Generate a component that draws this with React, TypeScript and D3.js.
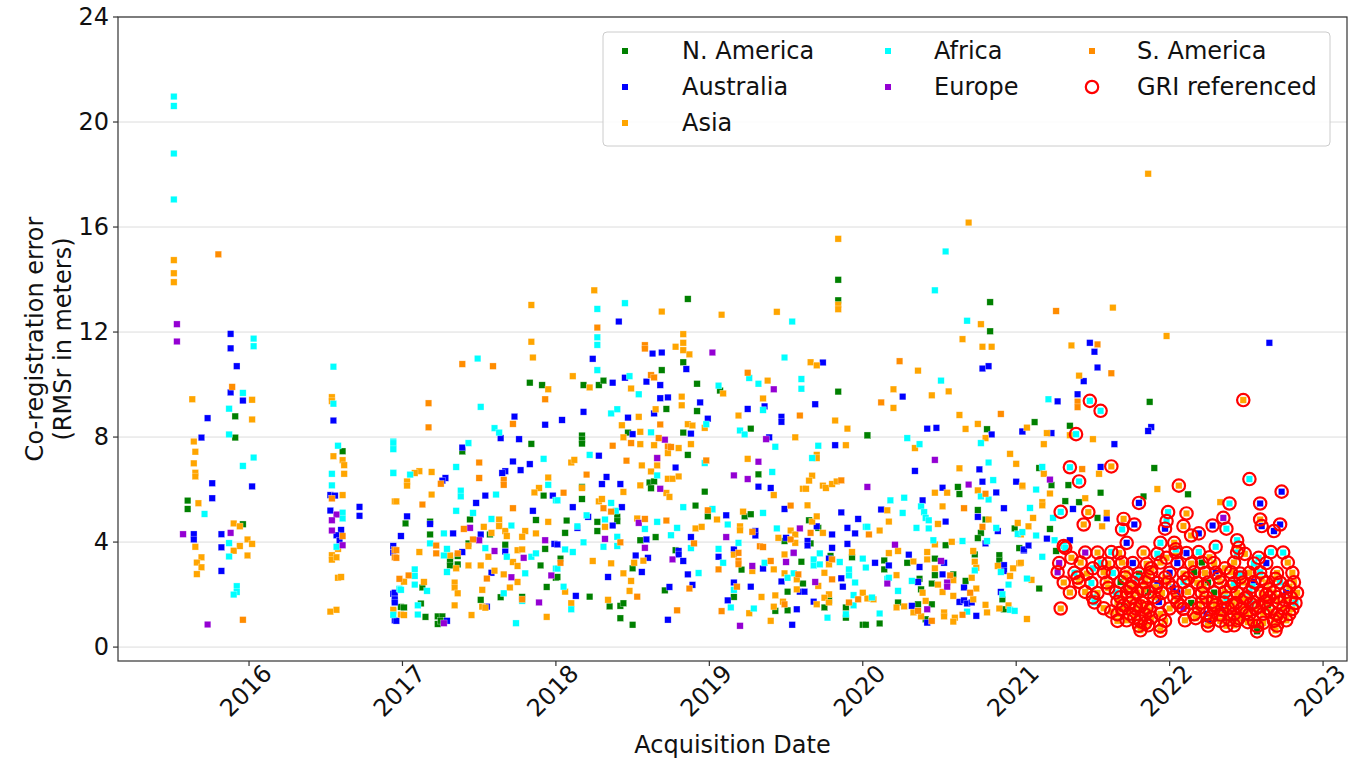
import React, { useEffect } from "react";
import * as d3 from "d3";

// Acquisition date (decimal year) and RMSr error (m), per region
const nAmerica: [number, number][] = [
  [2015.91,8.79],[2015.91,7.98],[2015.60,5.58],[2015.60,5.26],[2015.96,4.68],[2016.61,7.46],[2016.99,1.53],
  [2017.83,10.07],[2017.91,9.98],[2017.84,7.74],[2017.39,7.45],[2017.92,5.77],[2017.87,4.84],[2017.02,4.71],[2017.18,4.78],[2017.18,4.29],[2017.44,4.86],[2017.57,4.29],[2017.43,3.95],[2017.36,3.47],[2017.67,3.9],[2017.93,3.74],[2017.31,3.28],[2017.31,3.11],[2017.36,3.15],[2017.90,3.11],[2018.0,2.64],[2017.13,2.27],[2017.94,2.29],[2017.51,1.8],[2017.64,1.9],[2017.78,1.91],[2017.01,1.51],[2017.12,1.66],[2017.15,1.15],[2017.23,1.17],[2017.26,1.17],[2017.23,0.88],[2017.25,1.0],
  [2018.86,13.26],[2018.83,10.85],[2018.18,9.98],[2018.28,9.98],[2018.31,10.15],[2018.69,10.55],[2018.92,10.03],[2018.72,9.07],[2018.92,8.99],[2018.47,8.17],[2018.83,8.17],[2018.17,8.06],[2018.17,7.91],[2018.17,7.75],[2018.86,7.32],[2018.61,6.27],[2018.64,6.31],[2018.62,6.05],[2018.97,5.92],[2018.17,6.1],[2018.17,5.64],[2018.91,5.39],[2018.07,4.82],[2018.06,4.35],[2018.27,4.77],[2018.27,4.42],[2018.40,4.96],[2018.40,4.8],[2018.65,4.19],[2018.99,4.98],[2018.55,4.07],[2018.78,3.69],[2018.50,3.0],[2018.03,3.37],[2018.01,2.67],[2018.22,1.92],[2018.35,1.55],[2018.42,1.57],[2018.44,1.67],[2018.42,1.1],[2018.50,0.85],[2018.71,2.16],
  [2019.84,13.99],[2019.84,13.21],[2019.07,9.77],[2019.84,9.73],[2019.27,8.32],[2020.03,8.06],[2019.32,6.58],[2019.23,4.98],[2019.27,5.06],[2019.65,4.83],[2019.71,4.54],[2019.49,4.04],[2019.66,3.95],[2019.60,3.25],[2019.79,3.47],[2019.93,3.42],[2019.21,2.95],[2019.16,1.91],[2019.61,2.42],[2019.51,2.11],[2019.78,1.78],[2019.43,1.38],[2019.51,1.4],[2019.75,1.51],[2019.89,1.51],[2019.89,1.12],[2020.0,0.85],
  [2020.83,13.14],[2020.83,12.03],[2020.81,8.3],[2020.03,8.07],[2020.62,6.1],[2020.63,5.83],[2020.75,5.22],[2020.80,4.86],[2020.77,4.35],[2020.75,4.15],[2020.99,4.52],[2020.54,3.88],[2020.73,3.53],[2021.02,3.77],[2020.14,3.3],[2020.14,2.96],[2020.29,3.21],[2020.47,3.37],[2020.47,2.74],[2020.59,2.77],[2020.67,2.52],[2020.89,3.5],[2020.89,3.3],[2020.37,2.6],[2020.38,2.2],[2020.45,2.42],[2020.91,1.82],[2020.23,1.7],[2020.36,1.63],[2020.45,1.63],[2020.41,1.06],[2020.92,1.44],[2020.11,0.9],[2020.02,0.85],
  [2021.87,9.34],[2021.12,8.57],[2021.35,8.43],[2021.15,6.82],[2021.23,6.17],[2021.34,6.17],[2021.55,5.88],[2021.90,6.82],[2022.12,5.82],[2021.83,5.74],[2021.32,5.56],[2021.41,5.52],[2021.53,4.92],[2021.22,4.5],[2021.26,3.66],[2021.15,2.23],
];

const australia: [number, number][] = [
  [2015.88,11.93],[2015.88,11.38],[2015.92,10.7],[2015.88,9.7],[2015.96,9.39],[2015.73,8.72],[2015.69,7.98],[2015.76,6.24],[2015.76,5.67],[2016.02,6.12],[2015.64,4.3],[2015.64,4.1],[2015.82,4.3],[2015.82,3.8],[2015.82,2.9],
  [2016.55,8.63],[2016.53,5.79],[2016.56,5.77],[2016.53,5.2],[2016.60,4.46],[2016.57,4.26],[2016.59,4.06],[2016.72,5.34],[2016.72,5.0],
  [2016.94,3.85],[2016.94,3.6],[2016.94,2.03],[2016.95,1.74],[2016.95,1.02],
  [2017.73,8.78],[2017.93,8.47],[2017.64,7.96],[2017.76,7.92],[2017.39,7.6],[2017.72,7.07],[2017.83,6.97],[2017.77,6.74],[2017.67,6.7],[2017.65,6.63],[2017.28,6.44],[2017.26,6.34],[2017.98,5.77],[2017.54,5.77],[2017.48,5.49],[2017.85,5.19],[2017.03,4.98],[2016.99,4.23],[2017.18,4.69],[2017.33,4.33],[2017.51,4.29],[2017.99,3.93],[2017.39,3.62],[2017.67,3.64],[2017.58,2.83],[2016.95,2.07],[2016.95,1.82],[2016.95,1.7],[2017.55,1.54],[2016.96,1.0],[2017.29,1.0],
  [2018.41,12.4],[2018.24,10.98],[2018.63,11.18],[2018.69,11.22],[2018.85,10.59],[2018.37,10.07],[2018.45,10.26],[2018.59,10.11],[2018.68,9.98],[2018.68,9.48],[2018.73,9.51],[2018.94,9.32],[2018.64,8.9],[2018.18,8.96],[2018.04,8.65],[2018.47,8.74],[2018.99,8.7],[2018.50,8.11],[2018.88,8.13],[2018.28,7.29],[2018.78,6.84],[2018.33,6.48],[2018.30,6.21],[2018.42,6.21],[2018.11,5.33],[2018.43,5.33],[2018.21,4.96],[2018.14,4.54],[2018.37,4.63],[2018.59,4.1],[2018.01,3.91],[2018.80,3.66],[2018.80,3.53],[2018.83,3.28],[2018.88,4.19],[2018.60,3.4],[2018.52,3.49],[2018.56,2.86],[2018.34,2.67],[2018.86,2.77],[2018.13,1.95],[2018.74,2.29],[2018.89,2.37],[2018.73,1.04],
  [2019.74,10.84],[2019.25,9.07],[2019.36,9.17],[2019.47,8.77],[2019.47,8.58],[2019.69,9.25],[2019.39,7.99],[2019.82,7.69],[2019.32,6.11],[2019.40,6.06],[2019.11,5.02],[2019.49,5.26],[2019.86,5.13],[2019.97,4.88],[2019.70,4.6],[2019.30,4.42],[2019.30,4.25],[2019.80,4.29],[2019.90,4.54],[2019.95,4.33],[2019.50,4.16],[2019.64,4.04],[2019.64,3.87],[2019.80,3.78],[2019.90,3.93],[2019.16,3.72],[2019.06,3.44],[2019.55,3.59],[2019.78,3.37],[2019.35,2.99],[2019.47,2.5],[2019.86,2.62],[2019.16,2.46],[2019.27,2.3],[2019.12,1.78],[2019.59,2.11],[2019.62,2.11],[2019.87,2.3],[2019.57,1.44],[2019.68,1.73],[2019.54,0.85],
  [2020.78,10.61],[2020.82,10.7],[2020.26,9.54],[2020.42,8.32],[2020.48,8.35],[2020.84,8.1],[2021.04,8.22],[2020.34,6.71],[2020.76,6.77],[2020.78,6.3],[2021.0,6.3],[2020.52,6.07],[2020.87,5.89],[2020.39,5.59],[2020.12,5.24],[2020.92,5.29],[2020.75,4.96],[2020.54,4.78],[2020.88,4.42],[2020.80,3.95],[2021.05,3.68],[2020.08,3.21],[2020.17,3.11],[2020.30,3.52],[2020.37,3.05],[2020.53,3.21],[2020.52,2.77],[2020.66,2.27],[2020.92,3.12],[2020.92,2.9],[2020.36,2.48],[2020.90,2.1],[2020.32,1.57],[2020.42,0.93],[2020.63,1.72],[2020.66,1.78],[2020.68,1.66],[2020.71,1.7],[2020.74,1.19],
  [2021.48,11.59],[2021.51,11.25],[2021.53,10.65],[2021.44,10.13],[2021.40,9.63],[2021.27,9.36],[2021.88,8.38],[2021.86,8.23],[2021.04,8.21],[2021.23,8.15],[2021.64,7.73],[2021.55,6.86],[2021.37,5.26],[2021.59,4.9],[2021.20,4.13],[2021.35,4.07],[2021.05,3.72],[2021.08,3.87],[2022.65,11.59],
];

const asia: [number, number][] = [
  [2015.51,14.74],[2015.51,14.24],[2015.51,13.9],[2015.63,9.44],[2016.02,9.42],[2016.02,8.67],[2015.64,7.83],[2015.65,7.44],[2015.64,7.0],[2015.65,6.64],[2015.65,6.5],[2015.67,5.48],[2015.90,4.71],[2015.94,4.6],[2015.99,4.1],[2016.02,3.93],[2015.94,3.85],[2015.90,3.67],[2015.65,3.82],[2015.99,3.49],[2015.69,3.42],[2015.66,3.22],[2015.69,3.04],[2015.66,2.78],
  [2016.54,9.52],[2016.54,9.37],[2016.55,7.27],[2016.61,7.12],[2016.62,6.93],[2016.62,6.6],[2016.61,5.79],[2016.58,3.74],[2016.54,3.5],[2016.54,3.33],[2016.57,3.42],[2016.58,2.64],[2016.60,2.67],[2016.53,1.35],[2016.57,1.42],
  [2016.95,5.55],[2016.94,1.37],[2016.99,1.24],
  [2017.84,13.03],[2017.84,11.63],[2017.85,11.03],[2017.95,9.82],[2017.11,6.7],[2017.08,6.63],[2017.19,6.67],[2017.03,6.31],[2017.03,6.15],[2017.95,6.46],[2017.89,6.06],[2017.86,5.89],[2016.96,5.55],[2017.19,5.81],[2017.95,4.77],[2017.53,4.58],[2017.63,4.86],[2017.63,4.61],[2017.58,4.35],[2017.67,4.42],[2017.68,4.23],[2017.80,4.42],[2017.78,4.2],[2017.87,4.33],[2017.43,3.85],[2017.31,3.49],[2017.56,3.44],[2017.75,3.69],[2017.78,3.72],[2017.11,3.62],[2017.72,3.24],[2017.75,3.09],[2017.35,3.0],[2017.43,3.11],[2017.51,3.11],[2017.60,2.91],[2017.66,2.77],[2017.01,2.49],[2017.14,2.48],[2017.75,2.48],[2017.70,2.27],[2017.34,2.46],[2017.34,2.27],[2017.36,2.05],[2017.52,2.18],[2016.94,1.42],[2017.01,1.22],[2017.34,1.59],[2017.52,1.54],[2017.54,1.5],[2017.45,1.22],[2017.94,1.15],
  [2018.25,13.59],[2018.69,12.78],[2018.78,11.44],[2018.83,11.92],[2018.83,11.59],[2018.83,11.31],[2018.87,11.15],[2018.11,10.32],[2018.22,9.89],[2018.49,9.85],[2018.82,9.54],[2018.82,9.21],[2018.65,9.06],[2018.54,8.77],[2018.43,8.45],[2018.86,8.49],[2018.89,8.44],[2018.97,8.35],[2018.44,7.99],[2018.55,8.2],[2018.55,7.73],[2018.64,7.69],[2018.73,7.39],[2018.80,7.58],[2018.88,7.73],[2018.10,7.03],[2018.12,7.13],[2018.56,6.92],[2018.66,7.2],[2018.66,6.92],[2018.62,6.69],[2018.55,6.16],[2018.73,6.41],[2018.76,6.41],[2018.80,6.5],[2018.72,5.87],[2018.74,5.72],[2018.17,6.06],[2018.44,5.91],[2018.28,5.55],[2018.30,5.64],[2018.32,4.58],[2018.53,4.9],[2018.91,4.52],[2018.95,4.58],[2018.24,3.28],[2018.36,3.19],[2018.51,3.21],[2018.57,3.29],[2018.44,2.81],[2018.49,2.52],[2018.06,2.11],[2018.10,1.67],[2018.48,2.14],[2018.34,1.8],
  [2019.84,15.55],[2019.08,12.66],[2019.44,12.77],[2019.84,13.04],[2019.84,12.87],[2019.66,10.85],[2019.70,10.73],[2019.38,10.15],[2019.09,9.66],[2019.35,9.47],[2019.19,8.82],[2019.82,8.63],[2019.90,8.32],[2019.56,7.99],[2019.89,7.69],[2019.25,7.17],[2019.70,7.32],[2019.70,7.2],[2019.42,5.79],[2019.67,6.53],[2019.65,6.34],[2019.61,6.03],[2019.63,6.03],[2019.74,6.15],[2019.76,6.06],[2019.80,6.21],[2019.83,6.31],[2019.22,5.16],[2019.64,5.4],[2019.05,4.86],[2019.20,4.6],[2019.20,4.45],[2019.67,4.78],[2019.70,4.98],[2019.53,4.44],[2019.56,4.29],[2019.74,4.35],[2019.45,4.16],[2019.56,3.97],[2019.16,3.52],[2019.49,3.53],[2019.78,3.15],[2019.93,3.62],[2019.28,2.9],[2019.42,2.96],[2019.49,2.81],[2019.57,2.58],[2019.75,2.83],[2019.57,2.2],[2019.71,2.33],[2019.78,2.01],[2019.75,1.88],[2020.0,2.07],[2020.03,1.85],[2019.26,1.29],[2019.34,1.91],[2019.43,1.97],[2019.42,1.54],[2019.48,1.73],[2019.70,1.63],[2019.78,1.7],[2019.40,1.0],
  [2020.69,16.17],[2020.77,12.3],[2020.65,11.73],[2020.78,11.44],[2020.84,11.44],[2020.36,10.53],[2020.20,9.82],[2020.45,9.59],[2020.56,9.74],[2020.20,9.11],[2020.63,8.84],[2020.67,8.31],[2020.75,8.5],[2020.80,7.96],[2020.34,7.58],[2020.96,7.36],[2021.0,6.98],[2020.63,6.81],[2021.04,6.12],[2020.47,5.88],[2020.55,5.88],[2020.75,5.97],[2020.16,5.21],[2020.52,5.36],[2020.17,4.78],[2020.49,4.69],[2020.82,4.86],[2021.01,4.73],[2020.11,4.44],[2020.17,3.58],[2020.23,3.66],[2020.47,3.91],[2020.58,4.01],[2020.72,3.66],[2020.33,3.26],[2020.42,3.62],[2020.42,3.34],[2020.47,3.0],[2020.59,2.55],[2020.73,3.25],[2020.74,3.02],[2020.71,2.64],[2020.88,3.09],[2020.98,3.0],[2021.02,3.19],[2020.96,2.71],[2020.22,2.74],[2020.39,2.07],[2020.49,2.38],[2020.52,2.1],[2020.59,1.95],[2020.74,2.23],[2020.72,1.82],[2020.07,1.82],[2020.22,1.51],[2020.27,1.55],[2020.41,1.76],[2020.33,1.32],[2020.38,1.17],[2020.53,1.32],[2020.53,1.17],[2020.60,1.12],[2020.59,0.97],[2020.80,1.61],[2020.81,1.32],[2020.89,1.47],[2020.95,1.59],
  [2021.63,12.93],[2021.86,18.03],[2021.98,11.85],[2021.36,11.49],[2021.41,10.34],[2021.07,8.36],[2021.20,8.15],[2021.35,8.07],[2021.50,7.92],[2021.18,7.73],[2021.18,6.6],[2021.04,6.15],[2021.22,5.85],[2021.54,6.6],[2021.92,6.02],[2021.45,5.67],[2021.17,5.52],[2021.17,5.4],[2021.59,5.11],[2021.11,4.92],[2021.08,4.6],[2021.56,4.6],[2021.03,4.29],[2021.03,3.21],[2021.10,2.56],[2021.07,1.07],[2022.33,5.52],
];

const africa: [number, number][] = [
  [2015.51,20.97],[2015.51,20.61],[2015.51,18.8],[2015.51,17.05],[2016.03,11.75],[2016.03,11.46],[2015.96,9.68],[2015.87,9.08],[2015.87,8.1],[2016.03,7.22],[2015.96,6.9],[2015.71,5.07],[2015.87,3.96],[2015.87,3.45],[2015.92,2.32],[2015.92,2.1],[2015.90,2.0],
  [2016.55,10.68],[2016.55,9.27],[2016.58,7.67],[2016.54,6.6],[2016.54,6.16],[2016.61,5.12],[2016.61,4.9],[2016.57,3.82],
  [2016.94,7.83],[2016.94,7.57],[2016.94,6.64],[2016.98,2.22],[2016.94,1.23],
  [2017.49,10.99],[2017.51,9.15],[2017.60,8.34],[2017.63,8.17],[2017.43,7.77],[2016.94,7.77],[2016.94,7.54],[2017.92,7.17],[2017.35,6.86],[2017.05,6.57],[2016.94,6.63],[2017.95,6.18],[2018.0,5.59],[2017.38,5.96],[2017.38,5.74],[2017.61,5.81],[2017.35,5.19],[2017.46,5.11],[2017.58,4.88],[2017.71,4.63],[2017.27,4.33],[2017.18,3.95],[2017.29,3.74],[2017.27,3.49],[2017.54,3.77],[2017.68,3.44],[2017.84,3.44],[2017.87,3.57],[2018.0,2.99],[2017.29,2.86],[2017.80,2.81],[2017.08,2.96],[2017.08,2.71],[2017.08,2.38],[2017.16,2.14],[2016.99,2.18],[2017.66,2.05],[2017.78,1.76],[2017.10,1.59],[2017.10,1.24],[2017.74,0.91],
  [2018.27,12.88],[2018.45,13.1],[2018.27,11.8],[2018.27,11.51],[2018.27,10.55],[2018.48,10.32],[2018.54,9.63],[2018.36,8.9],[2018.40,9.06],[2018.98,8.49],[2018.62,8.18],[2018.22,7.32],[2018.97,7.01],[2018.66,6.54],[2018.01,5.59],[2018.36,5.49],[2018.39,5.19],[2018.83,5.33],[2019.02,5.24],[2018.20,5.02],[2018.14,4.6],[2018.32,4.86],[2018.58,4.5],[2018.66,4.77],[2018.79,4.54],[2018.75,4.26],[2018.40,4.2],[2018.40,3.85],[2018.31,3.82],[2018.18,3.99],[2018.06,3.72],[2018.11,3.62],[2018.88,3.77],[2018.93,2.82],[2018.01,2.99],[2018.05,2.3],[2018.10,1.44],
  [2019.54,12.4],[2019.49,11.03],[2019.26,10.25],[2019.32,10.03],[2019.06,9.96],[2019.60,10.21],[2019.60,9.84],[2019.35,9.03],[2019.20,8.25],[2019.23,8.1],[2019.43,7.63],[2019.71,7.67],[2019.67,7.2],[2019.41,6.67],[2019.02,5.26],[2019.35,5.11],[2019.12,4.67],[2019.44,4.52],[2020.02,4.58],[2019.19,3.97],[2019.06,3.74],[2019.09,3.21],[2019.72,3.57],[2019.68,3.34],[2019.68,3.11],[2019.72,3.15],[2019.85,3.24],[2020.0,3.37],[2020.02,3.03],[2019.36,3.21],[2019.55,2.81],[2019.51,2.64],[2019.91,2.96],[2019.91,2.73],[2019.95,2.46],[2019.16,2.18],[2019.94,1.98],[2019.14,1.51],[2019.29,1.47],[2019.89,1.25],[2019.94,1.59],[2019.77,1.12],
  [2020.54,15.07],[2020.47,13.59],[2020.68,12.43],[2020.51,10.15],[2020.29,7.96],[2020.37,7.73],[2020.77,7.77],[2020.82,7.03],[2020.85,6.36],[2020.77,5.74],[2020.82,5.62],[2020.18,5.59],[2020.27,5.69],[2020.38,5.36],[2020.26,5.11],[2020.40,5.14],[2020.41,4.92],[2020.43,4.83],[2020.43,4.52],[2020.35,4.54],[2020.87,4.54],[2021.01,4.31],[2020.03,4.58],[2020.46,4.07],[2020.65,4.04],[2020.81,4.04],[2020.73,2.92],[2020.90,2.86],[2020.95,2.38],[2020.16,2.6],[2020.17,2.64],[2020.32,2.52],[2020.23,2.14],[2020.91,2.01],[2020.06,1.89],[2020.68,1.35],[2020.96,1.42],[2020.99,1.38],[2020.11,1.28],
  [2021.21,9.44],[2021.17,6.86],[2021.13,6.0],[2021.09,5.3],[2021.24,4.92],[2021.13,4.25],[2021.04,4.38],[2021.25,4.07],[2021.17,3.44],[2021.07,2.61],
];

const europe: [number, number][] = [
  [2015.53,12.3],[2015.53,11.64],[2015.57,4.3],[2015.88,4.35],[2015.73,0.86],
  [2016.57,5.05],[2016.54,4.83],[2016.54,4.44],[2016.61,3.88],
  [2017.44,4.54],[2017.50,4.07],[2017.60,3.66],[2017.79,3.4],[2017.71,2.66],[2017.97,2.73],[2017.89,1.7],[2017.27,0.91],[2017.93,4.07],
  [2019.02,11.22],[2018.71,7.9],[2018.68,6.03],[2018.66,7.2],[2018.32,4.12],[2018.54,4.73],[2018.58,3.78],[2018.76,3.34],
  [2019.42,9.82],[2019.37,7.92],[2019.32,7.06],[2019.16,6.54],[2019.25,6.4],[2020.03,6.1],[2019.59,4.52],[2019.11,4.19],[2019.55,3.59],[2019.50,3.24],[2019.28,3.09],[2019.69,2.48],[2019.20,0.81],
  [2020.47,7.13],[2020.69,6.19],[2020.21,3.9],[2020.51,3.28],[2020.16,2.42],[2020.55,2.46],[2020.55,2.3],[2020.42,1.44],
  [2021.22,6.38],
];

const sAmerica: [number, number][] = [
  [2015.80,14.96],[2015.89,9.91],[2015.96,1.04],[2016.54,5.66],[2016.61,4.23],[2016.95,3.7],[2016.95,3.42],
  [2017.39,10.78],[2017.59,10.7],[2017.93,9.44],[2017.17,9.29],[2017.17,8.37],[2017.72,8.5],[2017.50,7.03],[2017.25,6.22],[2017.50,6.44],[2017.66,6.37],[2017.66,6.18],[2017.13,5.43],[2017.72,5.29],[2017.40,4.5],[2017.46,4.1],[2017.22,3.87],[2017.22,3.57],[2017.36,3.57],[2016.96,3.69],[2016.96,3.4],[2016.98,2.6],[2017.04,2.73],[2017.55,2.61],[2017.78,1.82],
  [2018.27,12.17],[2018.58,11.5],[2018.58,11.37],[2018.62,10.36],[2018.64,10.27],[2018.68,8.48],[2018.98,7.11],[2018.67,7.96],[2018.37,7.67],[2018.49,7.77],[2018.73,7.64],[2018.75,7.62],[2018.46,7.1],[2018.20,6.57],[2018.05,5.88],[2018.31,5.29],[2018.36,5.16],[2018.99,5.21],[2018.58,4.88],[2018.72,4.82],[2018.42,3.99],[2018.90,3.95],[2018.03,3.21],[2018.53,1.92],[2018.87,2.23],[2018.79,1.4],
  [2019.25,10.45],[2019.59,8.82],[2019.86,6.35],[2019.53,5.39],[2019.28,4.39],[2019.66,4.35],[2019.33,3.84],[2019.35,3.81],[2019.53,4.1],[2019.19,3.59],[2019.19,3.28],[2019.19,3.16],[2019.80,3.34],[2019.06,2.96],[2019.40,3.28],[2019.58,2.77],[2019.80,2.58],[2019.18,2.3],[2019.97,1.82],[2019.91,1.7],[2019.08,1.37],[2019.49,1.63],
  [2020.24,10.89],[2020.12,9.32],[2020.90,8.88],[2020.80,5.84],[2020.66,5.29],[2020.78,4.58],[2020.04,4.29],[2020.57,2.73],[2020.70,2.07],[2020.36,1.38],[2020.45,1.0],[2020.65,1.23],
  [2021.26,12.8],[2021.53,11.53],[2021.62,10.43],[2021.40,9.35],[2021.40,9.14],[2021.43,6.78],
];

// GRI referenced acquisitions: date, error, region key
const griReferenced: [number, number, string][] = [
  [2021.48,9.38,"AF"],[2021.55,9.0,"AF"],[2021.39,8.11,"AF"],[2022.48,9.41,"AS"],[2021.35,6.85,"AF"],[2021.62,6.88,"AS"],[2021.41,6.31,"AF"],[2022.06,6.15,"AS"],[2022.52,6.4,"AF"],[2022.73,5.92,"AU"],[2021.80,5.49,"AU"],[2021.29,5.15,"AF"],[2021.47,5.14,"AS"],[2021.44,4.67,"AS"],[2022.39,5.47,"AF"],[2022.59,5.47,"AU"],[2021.99,5.14,"AF"],[2022.11,5.09,"AS"],[2021.70,4.88,"AS"],[2021.77,4.67,"AU"],[2021.98,4.8,"AF"],[2021.97,4.51,"AU"],[2022.09,4.61,"AS"],[2022.14,4.25,"AS"],[2022.19,4.33,"AU"],[2022.28,4.63,"AU"],[2022.35,4.92,"EU"],[2022.37,4.51,"AF"],[2022.59,4.86,"AS"],[2022.60,4.61,"AU"],[2022.68,4.42,"AU"],[2022.72,4.67,"AU"],[2021.69,4.48,"AF"],[2021.72,3.97,"AU"],[2021.31,3.85,"AF"],[2021.32,3.78,"AF"],[2021.94,3.97,"AF"],[2022.03,3.97,"AS"],[2022.04,3.72,"AF"],[2022.30,3.82,"AF"],[2022.44,4.07,"AF"],[2022.45,3.78,"AS"],
  [2021.45,3.6,"EU"],[2021.53,3.6,"AS"],[2021.62,3.62,"AF"],[2021.67,3.58,"AS"],[2021.83,3.6,"AS"],[2021.92,3.55,"AF"],[2022.04,3.6,"AS"],[2022.11,3.58,"AU"],[2022.19,3.62,"AF"],[2022.44,3.6,"AF"],[2022.49,3.55,"AS"],[2022.66,3.62,"AF"],[2022.74,3.6,"AF"],
  [2021.28,3.2,"EU"],[2021.42,3.22,"AS"],[2021.55,3.2,"AF"],[2021.60,3.18,"AS"],[2021.69,3.22,"AS"],[2021.76,3.2,"AU"],[2021.85,3.17,"AS"],[2021.94,3.22,"AS"],[2022.05,3.2,"AU"],[2022.14,3.18,"AS"],[2022.21,3.22,"NA"],[2022.29,3.2,"AS"],[2022.42,3.22,"AS"],[2022.55,3.18,"AF"],[2022.63,3.2,"AU"],[2022.77,3.22,"AS"],
  [2021.27,2.85,"EU"],[2021.38,2.83,"AF"],[2021.46,2.8,"AS"],[2021.57,2.85,"AS"],[2021.63,2.82,"AF"],[2021.72,2.83,"AS"],[2021.80,2.8,"NA"],[2021.88,2.85,"AS"],[2022.00,2.83,"AU"],[2022.09,2.8,"AS"],[2022.16,2.85,"NA"],[2022.23,2.82,"AS"],[2022.30,2.83,"AU"],[2022.40,2.85,"AS"],[2022.46,2.8,"AF"],[2022.52,2.83,"AS"],[2022.59,2.85,"AF"],[2022.70,2.82,"AS"],[2022.80,2.83,"AS"],
  [2021.31,2.46,"AS"],[2021.41,2.48,"AS"],[2021.49,2.44,"AF"],[2021.59,2.46,"AS"],[2021.68,2.48,"NA"],[2021.76,2.45,"AS"],[2021.84,2.47,"AS"],[2021.92,2.44,"AU"],[2021.99,2.46,"AS"],[2022.09,2.48,"AF"],[2022.18,2.45,"AS"],[2022.25,2.46,"NA"],[2022.33,2.48,"AS"],[2022.42,2.44,"AF"],[2022.48,2.46,"AS"],[2022.55,2.48,"AU"],[2022.63,2.45,"AS"],[2022.72,2.46,"AF"],[2022.81,2.47,"AS"],
  [2021.35,2.08,"AS"],[2021.45,2.1,"AS"],[2021.53,2.06,"AS"],[2021.65,2.08,"AF"],[2021.72,2.1,"AS"],[2021.79,2.07,"AS"],[2021.86,2.09,"NA"],[2021.95,2.06,"AS"],[2022.05,2.08,"AU"],[2022.12,2.1,"AS"],[2022.21,2.06,"AS"],[2022.29,2.08,"NA"],[2022.36,2.1,"AS"],[2022.44,2.07,"AS"],[2022.52,2.09,"AF"],[2022.60,2.06,"AS"],[2022.68,2.08,"AS"],[2022.76,2.1,"AU"],[2022.83,2.07,"AS"],
  [2021.50,1.89,"AF"],[2021.68,1.9,"AS"],[2021.76,1.88,"AS"],[2022.03,1.9,"AS"],[2022.24,1.89,"AS"],[2022.37,1.88,"AF"],[2022.50,1.9,"AS"],[2022.65,1.89,"AS"],[2022.79,1.88,"AS"],
  [2021.51,1.7,"AF"],[2021.66,1.72,"AS"],[2021.74,1.68,"AS"],[2021.82,1.7,"AS"],[2021.93,1.72,"AU"],[2022.05,1.7,"AS"],[2022.14,1.68,"NA"],[2022.21,1.7,"AS"],[2022.28,1.72,"AS"],[2022.35,1.7,"AS"],[2022.43,1.68,"AS"],[2022.55,1.7,"AS"],[2022.62,1.72,"AS"],[2022.71,1.7,"AS"],[2022.82,1.68,"AF"],
  [2021.29,1.47,"AS"],[2021.57,1.48,"AS"],[2021.69,1.46,"AS"],[2021.78,1.47,"AS"],[2021.85,1.49,"AS"],[2022.00,1.47,"AS"],[2022.09,1.46,"EU"],[2022.19,1.48,"AS"],[2022.29,1.47,"AS"],[2022.38,1.49,"AS"],[2022.47,1.46,"AS"],[2022.56,1.47,"AS"],[2022.64,1.48,"NA"],[2022.74,1.47,"AS"],
  [2021.66,1.25,"AS"],[2021.74,1.27,"AS"],[2021.84,1.24,"AS"],[2021.94,1.26,"AS"],[2022.16,1.25,"AS"],[2022.24,1.27,"AU"],[2022.33,1.24,"AS"],[2022.42,1.26,"AS"],[2022.52,1.25,"AS"],[2022.61,1.27,"AS"],[2022.70,1.24,"AS"],[2022.78,1.26,"AS"],
  [2021.66,1.0,"AS"],[2021.72,1.02,"AS"],[2021.81,0.98,"AS"],[2021.97,1.0,"AS"],[2022.10,1.02,"AS"],[2022.25,0.98,"AU"],[2022.33,1.0,"AS"],[2022.44,1.02,"AS"],[2022.55,0.98,"AS"],[2022.68,1.0,"AS"],[2022.76,1.02,"AS"],
  [2021.80,0.81,"AS"],[2021.86,0.83,"AS"],[2021.94,0.8,"AS"],[2022.25,0.82,"AS"],[2022.37,0.81,"AS"],[2022.42,0.83,"AS"],[2022.57,0.8,"NA"],[2022.70,0.82,"AS"],
  [2021.81,0.64,"AS"],[2021.94,0.62,"AS"],[2022.57,0.6,"NA"],[2022.69,0.63,"AS"],
  [2021.75,2.3,"AS"],[2021.78,1.6,"AS"],[2021.83,2.2,"AS"],[2021.87,1.4,"AS"],[2021.90,1.9,"AS"],[2022.60,2.6,"AS"],[2022.65,2.2,"AS"],[2022.50,1.3,"AS"],[2022.40,2.3,"AS"],[2022.30,1.6,"AS"],[2022.70,1.9,"AS"],[2022.53,1.65,"AF"],[2022.45,1.1,"AS"],
  [2021.71,2.65,"AS"],[2021.79,2.62,"AF"],[2021.86,2.68,"AS"],[2021.74,2.27,"AS"],[2021.81,1.55,"AS"],[2021.88,1.12,"AS"],[2021.77,1.12,"AS"],[2021.84,0.9,"AS"],[2021.91,2.28,"AS"],[2021.70,1.58,"NA"],[2021.62,1.35,"AS"],[2021.60,2.25,"AS"],[2021.40,2.65,"AS"],[2021.50,3.0,"AF"],[2021.36,3.4,"AS"],[2021.97,2.65,"AS"],[2022.02,2.27,"AU"],[2022.07,1.57,"AS"],[2022.12,2.62,"AS"],[2022.17,1.1,"AS"],[2022.22,2.3,"AS"],[2022.27,1.15,"AS"],[2022.32,2.65,"AS"],[2022.34,1.42,"AU"],[2022.39,1.05,"AS"],[2022.41,1.6,"AS"],[2022.46,2.65,"AS"],[2022.49,1.85,"AS"],[2022.51,0.95,"AS"],[2022.54,2.3,"AF"],[2022.58,1.55,"AS"],[2022.61,0.92,"AS"],[2022.63,2.0,"AS"],[2022.66,1.35,"AS"],[2022.69,2.6,"AS"],[2022.72,1.15,"AS"],[2022.75,1.8,"AS"],[2022.78,2.3,"AS"],[2022.80,1.45,"AS"],[2022.36,3.0,"AS"],[2022.58,3.4,"AF"],[2022.26,3.42,"AS"],[2021.98,3.4,"AS"],[2021.88,3.0,"AS"],
];

const regions = [
  { key: "NA", name: "N. America", color: "#008000", data: nAmerica },
  { key: "AU", name: "Australia", color: "#0000ff", data: australia },
  { key: "AS", name: "Asia", color: "#ffa500", data: asia },
  { key: "AF", name: "Africa", color: "#00ffff", data: africa },
  { key: "EU", name: "Europe", color: "#9400d3", data: europe },
  { key: "SA", name: "S. America", color: "#ff8c00", data: sAmerica },
];

const yTicks = [0, 4, 8, 12, 16, 20, 24];
const xTicks = [2016, 2017, 2018, 2019, 2020, 2021, 2022, 2023];

const W = 1352;
const H = 758;
const left = 118, right = 1347, top = 17, bottom = 661;
const FONT = "DejaVu Sans, sans-serif";

export default function App() {
  useEffect(() => {
    document.body.style.margin = "0";
  }, []);

  const x = d3.scaleLinear().domain([2015.146, 2023.156]).range([left, right]);
  const y = d3.scaleLinear().domain([-0.53, 24]).range([bottom, top]);
  const sq = 6.5;

  // legend layout: column-major like matplotlib (ncol=3)
  const legendItems = [
    ...regions.map((r) => ({ name: r.name, color: r.color, circle: false })),
    { name: "GRI referenced", color: "red", circle: true },
  ];
  const colX = [625, 888, 1092];
  const colOrder = [[0, 1, 2], [3, 4], [5, 6]];
  const rowY = [51, 87, 123];

  return (
    <svg width={W} height={H} style={{ display: "block", background: "white" }} fontFamily={FONT}>
      {yTicks.map((t) => (
        <line key={"g" + t} x1={left} x2={right} y1={y(t)} y2={y(t)} stroke="#dcdcdc" strokeWidth={1} />
      ))}

      <defs>
        <clipPath id="plotClip">
          <rect x={left} y={top} width={right - left} height={bottom - top} />
        </clipPath>
      </defs>
      <g clipPath="url(#plotClip)">
        {regions.map((r) => {
          const pts = r.data.concat(
            griReferenced.filter((g) => g[2] === r.key).map((g) => [g[0], g[1]] as [number, number])
          );
          return (
            <g key={r.key}>
              {pts.map((d, i) => (
                <rect
                  key={i}
                  x={x(d[0]) - sq / 2}
                  y={y(d[1]) - sq / 2}
                  width={sq}
                  height={sq}
                  fill={r.color}
                  stroke="white"
                  strokeOpacity={0.6}
                  strokeWidth={0.5}
                />
              ))}
            </g>
          );
        })}
        {griReferenced.map((g, i) => (
          <circle key={"c" + i} cx={x(g[0])} cy={y(g[1])} r={6.2} fill="none" stroke="#ff0000" strokeWidth={2.2} />
        ))}
      </g>

      {/* spines */}
      <rect x={left} y={top} width={right - left} height={bottom - top} fill="none" stroke="#333" strokeWidth={1.2} />

      {/* y axis */}
      {yTicks.map((t) => (
        <g key={"y" + t}>
          <line x1={left - 5} x2={left} y1={y(t)} y2={y(t)} stroke="#333" strokeWidth={1.2} />
          <text x={left - 9} y={y(t)} textAnchor="end" dominantBaseline="central" fontSize={24} fill="#111">
            {t}
          </text>
        </g>
      ))}

      {/* x axis */}
      {xTicks.map((t) => (
        <g key={"x" + t}>
          <line x1={x(t)} x2={x(t)} y1={bottom} y2={bottom + 5} stroke="#333" strokeWidth={1.2} />
          <text
            transform={`translate(${x(t) - 3},${bottom + 30}) rotate(-45)`}
            textAnchor="middle"
            dominantBaseline="central"
            fontSize={24}
            fill="#111"
          >
            {t}
          </text>
        </g>
      ))}

      <text x={(left + right) / 2} y={745} textAnchor="middle" dominantBaseline="central" fontSize={24} fill="#111">
        Acquisition Date
      </text>
      <text transform={`translate(35,${(top + bottom) / 2}) rotate(-90)`} textAnchor="middle" dominantBaseline="central" fontSize={24} fill="#111">
        Co-registration error
      </text>
      <text transform={`translate(63,${(top + bottom) / 2}) rotate(-90)`} textAnchor="middle" dominantBaseline="central" fontSize={24} fill="#111">
        (RMSr in meters)
      </text>

      {/* legend */}
      <rect x={603} y={32} width={727} height={114} rx={4} fill="white" fillOpacity={0.85} stroke="#cccccc" strokeWidth={1} />
      {colOrder.map((col, ci) =>
        col.map((idx, ri) => {
          const it = legendItems[idx];
          const cx = colX[ci];
          const cy = rowY[ri];
          return (
            <g key={"l" + idx}>
              {it.circle ? (
                <circle cx={cx} cy={cy} r={6.2} fill="none" stroke="#ff0000" strokeWidth={2.2} />
              ) : (
                <rect x={cx - 3} y={cy - 3} width={6} height={6} fill={it.color} />
              )}
              <text x={cx + (ci === 0 ? 57 : ci === 1 ? 46 : 45)} y={cy} dominantBaseline="central" fontSize={24} fill="#111">
                {it.name}
              </text>
            </g>
          );
        })
      )}
    </svg>
  );
}
